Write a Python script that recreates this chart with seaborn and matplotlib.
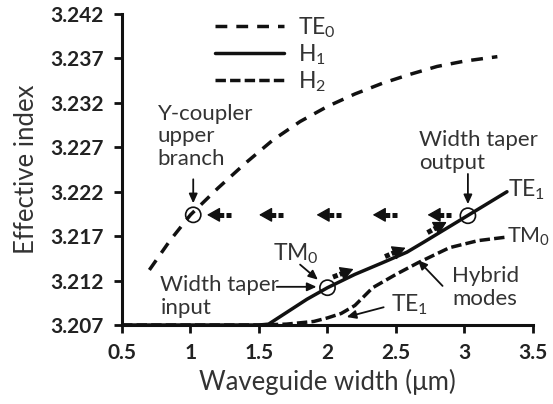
import numpy as np
import pandas as pd
import matplotlib
matplotlib.use("Agg")
import matplotlib.pyplot as plt
import seaborn as sns

# ---------------- data ----------------
te0_x = [0.70, 0.85, 1.00, 1.20, 1.40, 1.60, 1.80, 2.00, 2.20, 2.40, 2.60, 2.80, 3.00, 3.24]
te0_y = [3.2132, 3.2165, 3.2194, 3.2224, 3.2252, 3.2278, 3.2299, 3.2316, 3.2330, 3.2342, 3.2352, 3.2361, 3.2367, 3.2372]

h1_x = [0.50, 1.00, 1.50, 1.57, 1.70, 1.85, 2.00, 2.20, 2.40, 2.58, 2.70, 2.85, 3.00, 3.15, 3.31]
h1_y = [3.2070, 3.2070, 3.2070, 3.2071, 3.2084, 3.2099, 3.2112, 3.2127, 3.2140, 3.2152, 3.2163, 3.2177, 3.2191, 3.2205, 3.2220]

h2_x = [0.50, 1.50, 1.70, 1.90, 2.00, 2.10, 2.20, 2.33, 2.50, 2.66, 2.89, 3.10, 3.31]
h2_y = [3.2070, 3.2070, 3.2071, 3.2074, 3.2078, 3.2083, 3.2092, 3.2112, 3.2127, 3.2140, 3.2157, 3.2165, 3.2169]

circle_x = [1.02, 2.00, 3.025]
circle_y = [3.2194, 3.2112, 3.2193]

# left-pointing dotted arrows (head x) at common level, and their length
back_heads = [1.12, 1.50, 1.92, 2.33, 2.73]
back_len = 0.175
back_level = 3.2194
# right-pointing dotted arrows along H1 (tail -> head)
fwd_tail_x = [2.04, 2.42, 2.73]
fwd_tail_y = [3.2124, 3.2147, 3.2174]
fwd_head_x = [2.19, 2.57, 2.87]
fwd_head_y = [3.2133, 3.2157, 3.2186]

x_ticks = [0.5, 1, 1.5, 2, 2.5, 3, 3.5]
x_tick_labels = ["0.5", "1", "1.5", "2", "2.5", "3", "3.5"]
y_ticks = [3.207, 3.212, 3.217, 3.222, 3.227, 3.232, 3.237, 3.242]
y_tick_labels = ["3.207", "3.212", "3.217", "3.222", "3.227", "3.232", "3.237", "3.242"]

legend_labels = [r"TE$_{\mathregular{0}}$", r"H$_{\mathregular{1}}$", r"H$_{\mathregular{2}}$"]

# ---------------- style ----------------
sns.set_style("ticks")
plt.rcParams["font.family"] = ["Lato", "DejaVu Sans"]
plt.rcParams["mathtext.fontset"] = "custom"
plt.rcParams["mathtext.rm"] = "Lato"
plt.rcParams["mathtext.it"] = "Lato"
TXT = "#333333"
LC = "#111111"

fig = plt.figure(figsize=(5.53, 4.04), dpi=100)
ax = fig.add_axes([0.2206, 0.1955, 0.9638 - 0.2206, 0.9653 - 0.1955])

df_te0 = pd.DataFrame({"x": te0_x, "y": te0_y})
df_h1 = pd.DataFrame({"x": h1_x, "y": h1_y})
df_h2 = pd.DataFrame({"x": h2_x, "y": h2_y})

sns.lineplot(data=df_te0, x="x", y="y", ax=ax, color=LC, lw=2.5, label=legend_labels[0], sort=False)
sns.lineplot(data=df_h1, x="x", y="y", ax=ax, color=LC, lw=2.5, label=legend_labels[1], sort=False)
sns.lineplot(data=df_h2, x="x", y="y", ax=ax, color=LC, lw=2.5, label=legend_labels[2], sort=False)
lines = ax.get_lines()
lines[0].set_dashes([3.4, 2.6])
lines[2].set_dashes([3.0, 1.2])

ax.scatter(circle_x, circle_y, s=120, facecolors="none", edgecolors=LC, linewidths=1.2, zorder=5)

# dotted arrows
def dotted_arrow(x0, y0, x1, y1):
    fx = x0 + (x1 - x0) * 0.60
    fy = y0 + (y1 - y0) * 0.60
    ax.plot([x0, fx], [y0, fy], color=LC, lw=3.6, dashes=[1.0, 0.45],
            dash_capstyle="butt", solid_capstyle="butt")
    ax.annotate("", xy=(x1, y1), xytext=(fx, fy),
                arrowprops=dict(arrowstyle="-|>,head_length=0.8,head_width=0.45",
                                color=LC, lw=1.0, shrinkA=0, shrinkB=0, mutation_scale=10))

for hx in back_heads:
    dotted_arrow(hx + back_len, back_level, hx, back_level)
for tx, ty, hx, hy in zip(fwd_tail_x, fwd_tail_y, fwd_head_x, fwd_head_y):
    dotted_arrow(tx, ty, hx, hy)

# annotations
afs = 16
sfs = 16.5
thin = dict(arrowstyle="-|>,head_length=0.55,head_width=0.25", color=LC, lw=1.3,
            shrinkA=0, shrinkB=0, mutation_scale=10)
ax.text(0.76, 3.2319, "Y-coupler\nupper\nbranch", fontsize=afs, color=TXT, ha="left", va="top",
        linespacing=1.15)
ax.annotate("", xy=(1.02, 3.2207), xytext=(1.02, 3.2234), arrowprops=thin)

ax.text(2.67, 3.2289, "Width taper\noutput", fontsize=afs, color=TXT, ha="left", va="top",
        linespacing=1.15)
ax.annotate("", xy=(3.025, 3.2206), xytext=(3.025, 3.2240), arrowprops=thin)

ax.text(3.32, 3.2222, r"TE$_{\mathregular{1}}$", fontsize=sfs, color=TXT, ha="left", va="center")
ax.text(3.31, 3.2169, r"TM$_{\mathregular{0}}$", fontsize=15.5, color=TXT, ha="left", va="center")

ax.text(2.91, 3.2112, "Hybrid\nmodes", fontsize=afs, color=TXT, ha="left", va="center",
        linespacing=1.15)
ax.annotate("", xy=(2.66, 3.2143), xytext=(2.84, 3.2114), arrowprops=thin)

ax.text(2.46, 3.2093, r"TE$_{\mathregular{1}}$", fontsize=sfs, color=TXT, ha="left", va="center")
ax.annotate("", xy=(2.14, 3.2079), xytext=(2.41, 3.2090), arrowprops=thin)

ax.text(1.60, 3.2150, r"TM$_{\mathregular{0}}$", fontsize=sfs, color=TXT, ha="left", va="center")
ax.annotate("", xy=(1.93, 3.2121), xytext=(1.80, 3.2138), arrowprops=thin)

ax.text(0.78, 3.2102, "Width taper\ninput", fontsize=afs, color=TXT, ha="left", va="center",
        linespacing=1.2)
ax.annotate("", xy=(1.92, 3.2113), xytext=(1.63, 3.2113), arrowprops=thin)

# axes
ax.set_xlim(0.5, 3.5)
ax.set_ylim(3.207, 3.242)
ax.set_xticks(x_ticks)
ax.set_xticklabels(x_tick_labels)
ax.set_yticks(y_ticks)
ax.set_yticklabels(y_tick_labels)
for lab in ax.get_xticklabels() + ax.get_yticklabels():
    lab.set_fontweight("bold")
    lab.set_fontsize(15)
    lab.set_color("#222222")
ax.tick_params(direction="out", length=6, width=2.0, color=LC)
ax.tick_params(axis="y", pad=7)
ax.tick_params(axis="x", pad=7)
ax.set_xlabel("Waveguide width (\u03bcm)", fontsize=18.5, color=TXT, labelpad=4)
ax.set_ylabel("Effective index", fontsize=18.5, color=TXT, labelpad=8)
sns.despine(ax=ax)
for s in ["left", "bottom"]:
    ax.spines[s].set_linewidth(2.2)
    ax.spines[s].set_color(LC)

leg = ax.legend(loc="upper left", bbox_to_anchor=(0.205, 1.025), frameon=False, fontsize=16.5,
                handlelength=3.0, handletextpad=0.6, labelspacing=0.1, borderaxespad=0)
for t in leg.get_texts():
    t.set_color(TXT)

fig.savefig("out.png", dpi=100)
